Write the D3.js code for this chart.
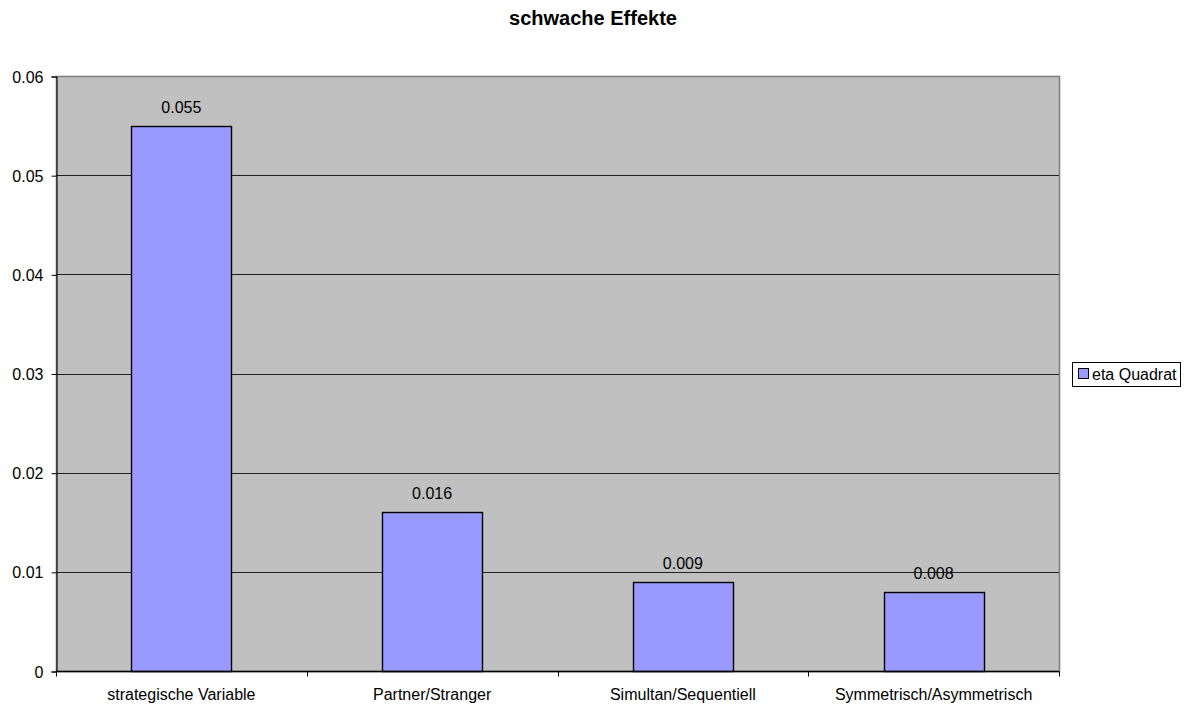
<!DOCTYPE html>
<html><head><meta charset="utf-8">
<script src="https://cdn.jsdelivr.net/npm/d3@7"></script>
<style>body{margin:0;background:#fff}svg{display:block;font-family:"Liberation Sans",Arial,sans-serif}</style>
</head><body>
<svg id="c" width="1191" height="706"></svg>
<script>
const categories = ["strategische Variable","Partner/Stranger","Simultan/Sequentiell","Symmetrisch/Asymmetrisch"];
const values = [0.055,0.016,0.009,0.008];
const valueLabels = ["0.055","0.016","0.009","0.008"];
const yTicks = [0,0.01,0.02,0.03,0.04,0.05,0.06];
const yTickLabels = ["0","0.01","0.02","0.03","0.04","0.05","0.06"];
const seriesName = "eta Quadrat";
const title = "schwache Effekte";

const svg = d3.select("#c");
const L=56, R=1059, T=76, B=671;
const x = d3.scaleBand().domain(categories).range([L,R]).paddingInner(0).paddingOuter(0);
const y = d3.scaleLinear().domain([0,0.06]).range([B,T]);

svg.append("rect").attr("x",L+0.5).attr("y",T+0.5).attr("width",R-L).attr("height",B-T).attr("fill","#c0c0c0").attr("stroke","#808080").attr("stroke-width",1.6);

svg.append("g").selectAll("line").data(yTicks.slice(1,-1)).join("line")
  .attr("x1",L).attr("x2",R).attr("y1",d=>Math.round(y(d))+0.5).attr("y2",d=>Math.round(y(d))+0.5)
  .attr("stroke","#222").attr("stroke-width",1);

const bw = 100;
svg.append("g").selectAll("rect").data(values).join("rect")
  .attr("x",(d,i)=>Math.round(x(categories[i])+x.bandwidth()/2-bw/2)+0.5)
  .attr("y",d=>Math.round(y(d))+0.5)
  .attr("width",bw).attr("height",d=>B-Math.round(y(d)))
  .attr("fill","#9999ff").attr("stroke","#000").attr("stroke-width",1.4);

svg.append("g").selectAll("text").data(values).join("text")
  .attr("x",(d,i)=>x(categories[i])+x.bandwidth()/2)
  .attr("y",d=>y(d)-13)
  .attr("text-anchor","middle").attr("font-size",16).attr("fill","#000")
  .text((d,i)=>valueLabels[i]);

// y axis
const ya = d3.axisLeft(y).tickValues(yTicks).tickFormat((d,i)=>yTickLabels[i]).tickSize(5).tickPadding(8);
const gy = svg.append("g").attr("transform",`translate(${L+0.5},0.5)`).call(ya);
gy.select(".domain").attr("stroke","#000");
gy.selectAll(".tick line").attr("stroke","#000");
gy.selectAll("text").attr("font-size",16).attr("font-family","Liberation Sans, Arial").attr("fill","#000").attr("dy","0.35em");

// x axis
const gx = svg.append("g").attr("transform",`translate(0,${B+0.5})`);
gx.append("line").attr("x1",L).attr("x2",R).attr("stroke","#000").attr("stroke-width",1.5);
const bounds = categories.map(c=>x(c)).concat([R]);
gx.selectAll("line.t").data(bounds).join("line").attr("class","t")
  .attr("x1",d=>Math.round(d)+0.5).attr("x2",d=>Math.round(d)+0.5).attr("y1",0).attr("y2",5).attr("stroke","#000");
gx.selectAll("text").data(categories).join("text")
  .attr("x",d=>x(d)+x.bandwidth()/2).attr("y",28)
  .attr("text-anchor","middle").attr("font-size",16).attr("fill","#000").text(d=>d);

// title
svg.append("text").attr("x",593).attr("y",25).attr("text-anchor","middle")
  .attr("font-size",20).attr("font-weight","bold").text(title);

// legend
const lg = svg.append("g");
lg.append("rect").attr("x",1072.5).attr("y",362.5).attr("width",108).attr("height",24).attr("fill","#fff").attr("stroke","#000");
lg.append("rect").attr("x",1078.5).attr("y",368.5).attr("width",10).attr("height",10).attr("fill","#9999ff").attr("stroke","#000");
lg.append("text").attr("x",1092).attr("y",380).attr("font-size",16).text(seriesName);
</script>
</body></html>
